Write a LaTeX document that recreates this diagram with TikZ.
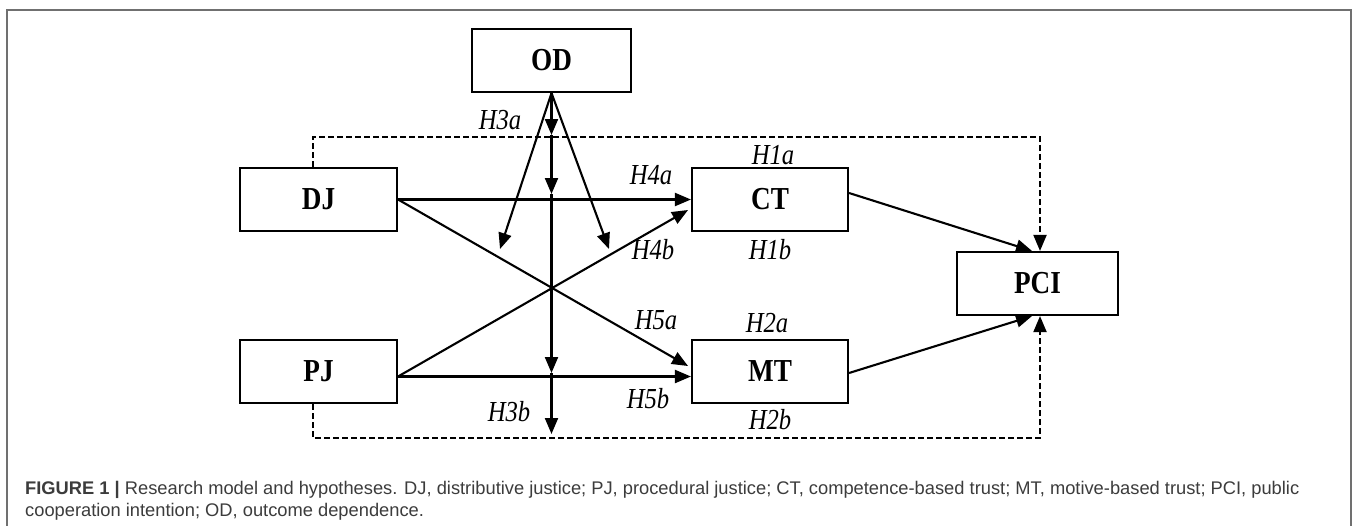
\documentclass[tikz,border=0pt]{standalone}
\usepackage{fontspec}
\setmainfont{Liberation Serif}
\newfontfamily\capfont{Liberation Sans}
\usetikzlibrary{arrows.meta}
\definecolor{framegray}{HTML}{707070}
\definecolor{captext}{HTML}{3C3C3C}
\newcommand\cz[1]{\scalebox{0.85}[1]{#1}}
\begin{document}
\begin{tikzpicture}[x=1pt,y=-1pt,
  box/.style={draw,line width=2.1pt,minimum width=157pt,minimum height=63pt,inner sep=0pt,
    font=\fontsize{32}{32}\selectfont\bfseries},
  lab/.style={font=\fontsize{29}{29}\selectfont\itshape,inner sep=0pt},
  arrtip/.style={-{Triangle[length=16pt,width=13pt]}},
  arr/.style={line width=2.1pt,arrtip},
  dsh/.style={line width=1.9pt,dash pattern=on 6pt off 3pt,arrtip},
  captxt/.style={font=\fontsize{18.3}{18.3}\capfont,text=captext,inner sep=0pt,anchor=base west},
]
\useasboundingbox (0,0) rectangle (1357,525);
\fill[white] (0,0) rectangle (1357,525);
\draw[framegray,line width=1.3pt] (7,526) -- (7,10) -- (1351,10) -- (1351,526);

% boxes
\node[box,minimum width=159pt] (OD) at (551.5,60.5) {\cz{OD}};
\node[box] (DJ) at (318.5,199.5) {\cz{DJ}};
\node[box] (PJ) at (318.5,371.5) {\cz{PJ}};
\node[box,minimum width=156pt] (CT) at (770,199.5) {\cz{CT}};
\node[box,minimum width=156pt] (MT) at (770,371.5) {\cz{MT}};
\node[box,minimum width=161pt] (PCI) at (1037.5,283.5) {\cz{PCI}};

% helper coordinates
\coordinate (v1) at (551.5,135);
\coordinate (v2) at (551.5,194);
\coordinate (v3) at (551.5,373);
\coordinate (v4) at (551.5,434);
\coordinate (dl) at (500,249);
\coordinate (dr) at (609,249);
\coordinate (mtin) at (688,366);
\coordinate (ctin) at (688,210);

% dashed direct paths
\draw[dsh] ([xshift=-5.5pt]DJ.north) -- ++(0,-30) -| ([xshift=2.5pt]PCI.north);
\draw[dsh] ([xshift=-5.5pt]PJ.south) -- ++(0,34) -| ([xshift=2.5pt]PCI.south);

% main paths
\draw[arr] (DJ.east) -- (CT.west);
\draw[arr] ([yshift=-5pt]PJ.east) -- ([yshift=-5pt]MT.west);
\draw[arr] (DJ.east) -- (mtin);
\draw[arr] ([yshift=-5pt]PJ.east) -- (ctin);
\draw[arr] ([yshift=6.5pt]CT.east) -- ([xshift=-5.5pt]PCI.north);
\draw[arr] ([yshift=-1.5pt]MT.east) -- ([xshift=-5.5pt]PCI.south);

% moderator
\draw[arr] (OD.south) -- (v1);
\draw[arr] (v1) -- (v2);
\draw[arr] (v2) -- (v3);
\draw[arr] (v3) -- (v4);
\draw[arr] (OD.south) -- (dl);
\draw[arr] (OD.south) -- (dr);

% labels
\node[lab] (h3a) at (500,120) {\cz{H3a}};
\node[lab] (h1a) at (773,155) {\cz{H1a}};
\node[lab] (h4a) at (651,175) {\cz{H4a}};
\node[lab] (h4b) at (653,250) {\cz{H4b}};
\node[lab] (h1b) at (770,250) {\cz{H1b}};
\node[lab] (h5a) at (656,320) {\cz{H5a}};
\node[lab] (h2a) at (767,323) {\cz{H2a}};
\node[lab] (h5b) at (648,399) {\cz{H5b}};
\node[lab] (h3b) at (509,412) {\cz{H3b}};
\node[lab] (h2b) at (770,420) {\cz{H2b}};

% caption
\node[captxt] (cap1) at (25,494) {\textbf{FIGURE 1 |} Research model and hypotheses. DJ, distributive justice; PJ, procedural justice; CT, competence-based trust; MT, motive-based trust; PCI, public};
\node[captxt] (cap2) at (25,516) {cooperation intention; OD, outcome dependence.};
\end{tikzpicture}
\end{document}
